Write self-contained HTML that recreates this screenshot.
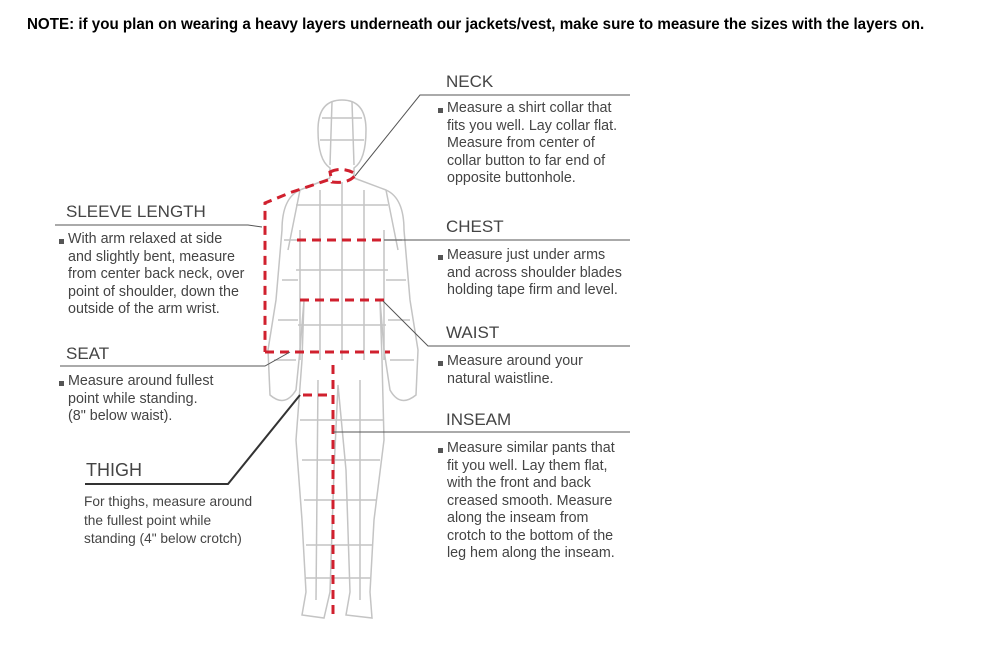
<!DOCTYPE html>
<html><head><meta charset="utf-8"><style>
body{margin:0;background:#fff;width:1000px;height:661px;overflow:hidden;position:relative;font-family:"Liberation Sans",sans-serif;color:#333}
.note{position:absolute;left:27px;top:16px;font:bold 15.3px "Liberation Sans",sans-serif;color:#000;transform:scaleX(0.99);transform-origin:0 0;white-space:nowrap}
.h{position:absolute;font-size:17px;color:#444}
.t{position:absolute;font-size:14.3px;line-height:17.5px;color:#444;white-space:nowrap}
.b{position:absolute;width:5px;height:5px;background:#555}
.th{position:absolute;font-size:13.7px;line-height:18.5px;color:#444;white-space:nowrap}
</style></head><body>
<div class="note">NOTE: if you plan on wearing a heavy layers underneath our jackets/vest, make sure to measure the sizes with the layers on.</div>
<svg width="1000" height="661" style="position:absolute;left:0;top:0">
<g fill="none" stroke="#c4c4c4" stroke-width="1.5">
<path d="M342 100 Q318 100 318 130 Q318 160 330 168 L330 178 M342 100 Q366 100 366 130 Q366 160 354 168 L354 178"/>
<path d="M330 178 L300 190 Q282 198 282 230 L276 300 L268 350 L270 395 Q285 408 296 390 L300 350 L304 300 L302 360 L296 440 L302 520 L306 592 L302 615 L324 618 L330 592 L334 470 L338 385 L346 470 L350 592 L346 615 L372 618 L370 592 L374 520 L384 440 L382 360 L380 300 L384 350 L390 390 Q400 408 416 395 L418 350 L410 300 L404 230 Q404 198 386 190 L354 178"/>
<path d="M300 230 L300 360 M384 230 L384 360 M320 190 L320 360 M342 182 L342 360 M364 190 L364 360 M296 205 H388 M296 270 H388 M298 325 H386 M300 420 H384 M302 460 H380 M304 500 H376 M306 545 H372 M306 578 H370 M318 380 L316 600 M360 380 L360 600 M284 240 H300 M282 280 H298 M278 320 H298 M274 360 H296 M384 240 H402 M386 280 H406 M388 320 H410 M390 360 H414 M322 118 H362 M320 140 H364 M332 102 L330 165 M352 102 L354 165 M300 190 L288 250 M386 190 L398 250"/>
</g>
<g fill="none" stroke="#d0202e" stroke-width="3" stroke-dasharray="9,6">
<path d="M330 172 Q342 166 356 174 Q350 184 332 182 Z"/>
<path d="M328 180 L292 192 L265 203 L265 352"/>
<path d="M297 240 H384"/>
<path d="M300 300 H384"/>
<path d="M265 352 H390"/>
<path d="M303 395 H332"/>
<path d="M333 365 V618"/>
</g>
<g fill="none" stroke="#555" stroke-width="1">
<path d="M355 176 L420 95 H630"/>
<path d="M55 225 H248 L262 227"/>
<path d="M384 240 H630"/>
<path d="M383 301 L428 346 H630"/>
<path d="M60 366 H265 L290 352"/>
<path d="M333 432 H630"/>
</g>
<path d="M300 395 L228 484 H85" fill="none" stroke="#333" stroke-width="2"/>
</svg>
<div class="h" style="left:446px;top:72px">NECK</div>
<div class="b" style="left:438px;top:108px"></div>
<div class="t" style="left:447px;top:100px">Measure a shirt collar that<br>fits you well. Lay collar flat.<br>Measure from center of<br>collar button to far end of<br>opposite buttonhole.</div>
<div class="h" style="left:446px;top:217px">CHEST</div>
<div class="b" style="left:438px;top:255px"></div>
<div class="t" style="left:447px;top:247px">Measure just under arms<br>and across shoulder blades<br>holding tape firm and level.</div>
<div class="h" style="left:446px;top:323px">WAIST</div>
<div class="b" style="left:438px;top:361px"></div>
<div class="t" style="left:447px;top:353px">Measure around your<br>natural waistline.</div>
<div class="h" style="left:446px;top:410px">INSEAM</div>
<div class="b" style="left:438px;top:448px"></div>
<div class="t" style="left:447px;top:440px">Measure similar pants that<br>fit you well. Lay them flat,<br>with the front and back<br>creased smooth. Measure<br>along the inseam from<br>crotch to the bottom of the<br>leg hem along the inseam.</div>
<div class="h" style="left:66px;top:202px">SLEEVE LENGTH</div>
<div class="b" style="left:59px;top:239px"></div>
<div class="t" style="left:68px;top:231px">With arm relaxed at side<br>and slightly bent, measure<br>from center back neck, over<br>point of shoulder, down the<br>outside of the arm wrist.</div>
<div class="h" style="left:66px;top:344px">SEAT</div>
<div class="b" style="left:59px;top:381px"></div>
<div class="t" style="left:68px;top:373px">Measure around fullest<br>point while standing.<br>(8" below waist).</div>
<div class="h" style="left:86px;top:460px;font-size:18px">THIGH</div>
<div class="th" style="left:84px;top:493px">For thighs, measure around<br>the fullest point while<br>standing (4" below crotch)</div>
</body></html>
